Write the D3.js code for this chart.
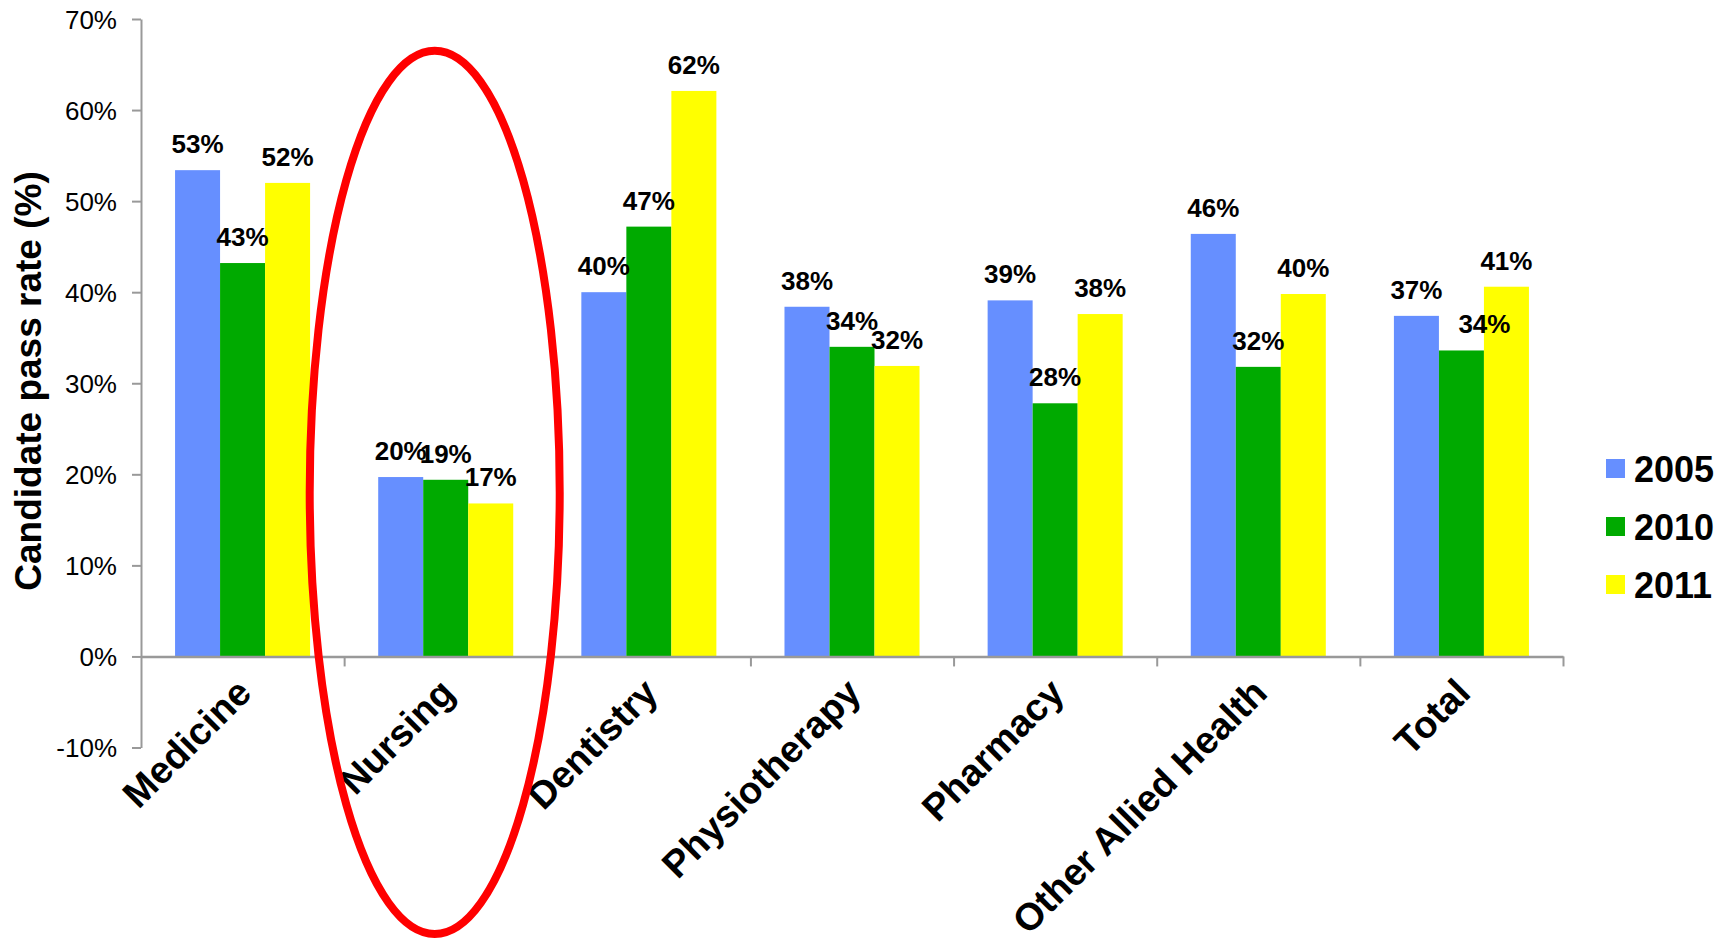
<!DOCTYPE html>
<html>
<head>
<meta charset="utf-8">
<script src="https://cdn.jsdelivr.net/npm/d3@7"></script>
<style>
  html, body { margin: 0; padding: 0; background: #fff; }
  svg { display: block; }
  text { font-family: "Liberation Sans", Arial, Helvetica, sans-serif; }
</style>
</head>
<body>
<svg id="chart" width="1728" height="938"></svg>
<script>
const categories = ["Medicine", "Nursing", "Dentistry", "Physiotherapy", "Pharmacy", "Other Allied Health", "Total"];
const years = ["2005", "2010", "2011"];
const values2005 = [53.4, 19.7, 40.0, 38.4, 39.1, 46.4, 37.4];
const values2010 = [43.2, 19.4, 47.2, 34.0, 27.8, 31.8, 33.6];
const values2011 = [52.0, 16.8, 62.1, 31.9, 37.6, 39.8, 40.6];
const yTicks = [-10, 0, 10, 20, 30, 40, 50, 60, 70];
const colors = ["#668FFF", "#00AA00", "#FFFF00"];
const highlighted = "Nursing";

// layout tweak: one data label in the original was dragged sideways
const labelShift = { "Total|2010": 23 };

const seriesValues = [values2005, values2010, values2011];
const rows = categories.map((c, i) => ({
  category: c,
  values: years.map((y, j) => ({ category: c, year: y, value: seriesValues[j][i], color: colors[j] }))
}));

const svg = d3.select("#chart");
const left = 141, right = 1563;

const y = d3.scaleLinear().domain([-10, 70]).range([747.5, 19]);
const x0 = d3.scaleBand().domain(categories).range([left, right]).paddingInner(0.3353).paddingOuter(0.3353 / 2);
const x1 = d3.scaleBand().domain(years).range([0, x0.bandwidth()]);
const xEdge = d3.scaleLinear().domain([0, categories.length]).range([left, right]);

// Y axis
const yAxis = svg.append("g")
  .attr("transform", `translate(${left},0)`)
  .call(d3.axisLeft(y).tickValues(yTicks).tickSize(9).tickSizeOuter(0).tickFormat(d => d + "%"));
yAxis.select(".domain").attr("stroke", "#999").attr("stroke-width", 2);
yAxis.selectAll(".tick line").attr("stroke", "#999").attr("stroke-width", 2);
yAxis.selectAll(".tick text")
  .attr("x", -24).attr("dy", "0.36em")
  .attr("font-size", 26).attr("fill", "#000")
  .style("font-family", '"Liberation Sans", Arial, sans-serif');

// Bars
const groups = svg.append("g").selectAll("g").data(rows).join("g")
  .attr("transform", d => `translate(${x0(d.category)},0)`);
groups.selectAll("rect").data(d => d.values).join("rect")
  .attr("x", d => x1(d.year))
  .attr("width", x1.bandwidth())
  .attr("y", d => y(d.value))
  .attr("height", d => y(0) - y(d.value))
  .attr("fill", d => d.color);

// X axis (category boundaries)
const xAxis = svg.append("g")
  .attr("transform", `translate(0,${y(0)})`)
  .call(d3.axisBottom(xEdge).tickValues(d3.range(1, categories.length + 1)).tickSize(10).tickSizeOuter(0).tickFormat(""));
xAxis.select(".domain").attr("stroke", "#999").attr("stroke-width", 2.5);
xAxis.selectAll(".tick line").attr("stroke", "#999").attr("stroke-width", 2);

// Data labels
groups.selectAll("text.lbl").data(d => d.values).join("text")
  .attr("class", "lbl")
  .attr("x", d => x1(d.year) + x1.bandwidth() / 2 + (labelShift[d.category + "|" + d.year] || 0))
  .attr("y", d => y(d.value) - 17)
  .attr("text-anchor", "middle")
  .attr("font-size", 26).attr("font-weight", "bold")
  .text(d => Math.round(d.value) + "%");

// Category labels
svg.append("g").selectAll("text").data(categories).join("text")
  .attr("transform", d => `translate(${x0(d) + x0.bandwidth() / 2 + 11},695) rotate(-45)`)
  .attr("text-anchor", "end")
  .attr("font-size", 38).attr("font-weight", "bold")
  .text(d => d);

// Y title
svg.append("text")
  .attr("transform", "translate(41,381) rotate(-90)")
  .attr("text-anchor", "middle")
  .attr("font-size", 37).attr("font-weight", "bold")
  .text("Candidate pass rate (%)");

// Legend
const legend = svg.append("g").selectAll("g").data(years).join("g")
  .attr("transform", (d, i) => `translate(1606,${459 + i * 58})`);
legend.append("rect").attr("width", 19).attr("height", 19).attr("fill", (d, i) => colors[i]);
legend.append("text").attr("x", 28).attr("y", 22.5)
  .attr("font-size", 36).attr("font-weight", "bold").text(d => d);

// Highlight ellipse around Nursing
const hc = x0(highlighted) + x0.bandwidth() / 2;
const eTop = y(66.5), eBottom = 934;
svg.append("ellipse")
  .attr("cx", hc - 11).attr("cy", (eTop + eBottom) / 2)
  .attr("rx", 125).attr("ry", (eBottom - eTop) / 2)
  .attr("fill", "none").attr("stroke", "#FF0000").attr("stroke-width", 8);
</script>
</body>
</html>
